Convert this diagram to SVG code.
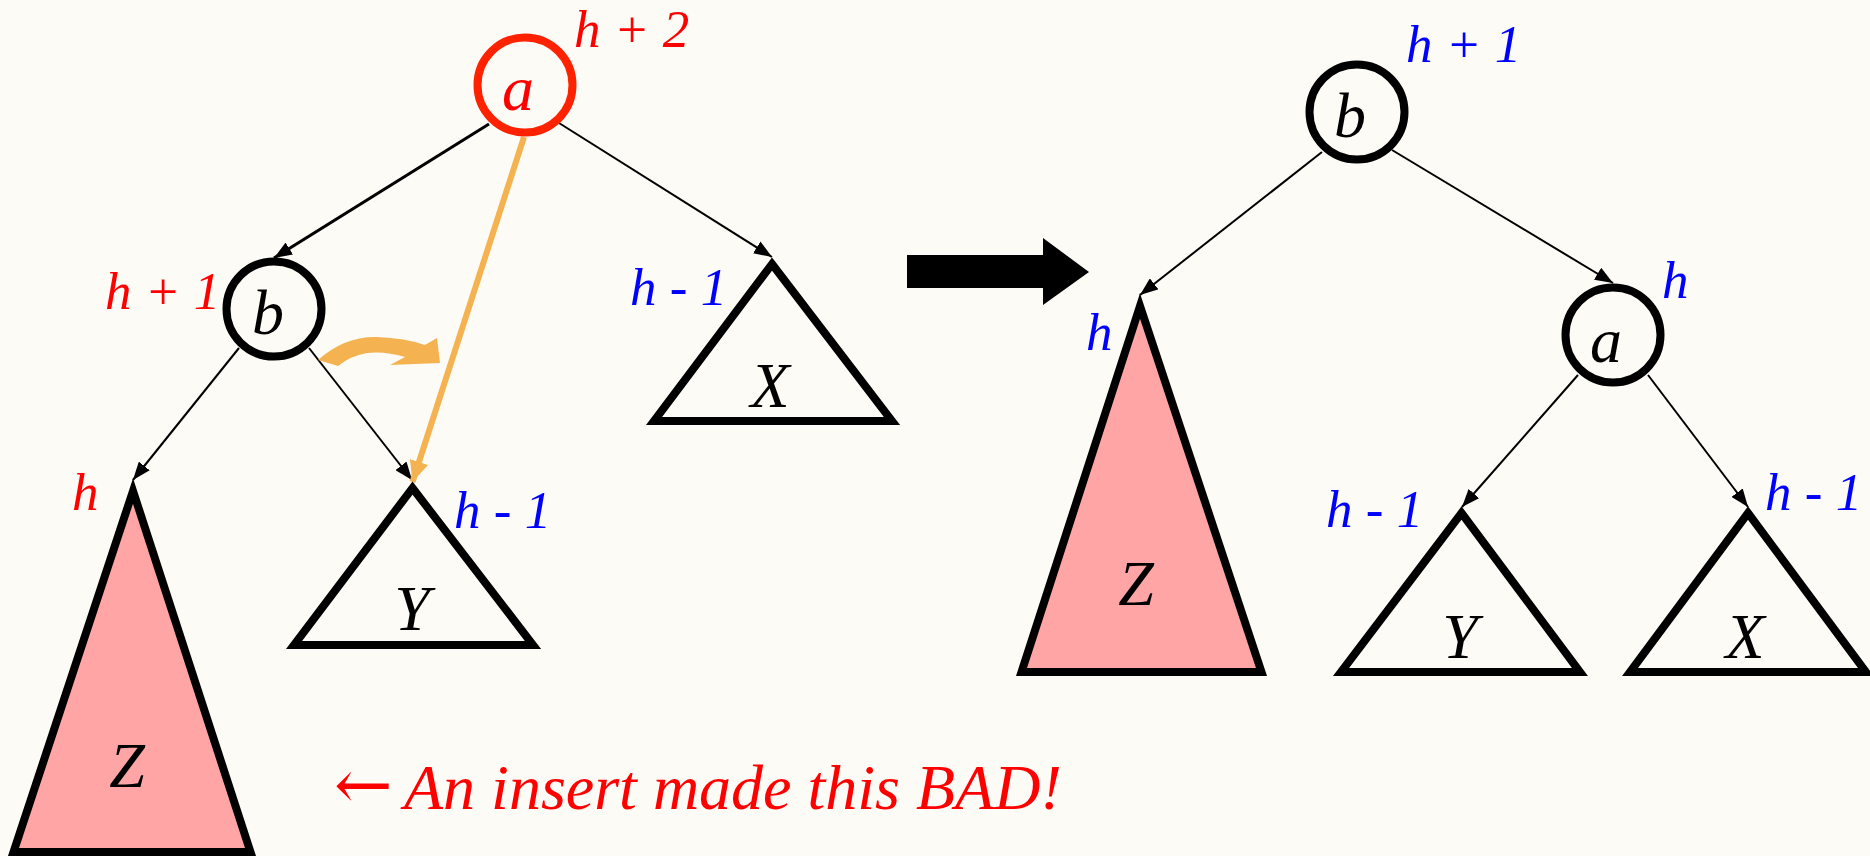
<svg xmlns="http://www.w3.org/2000/svg" width="1870" height="856" viewBox="0 0 1870 856">
<defs>
<style>
.bg{fill:#FCFBF6}
text{font-family:"Liberation Serif","Times New Roman",serif;font-style:italic}
.lbl{font-size:64px;fill:#000;text-anchor:middle}
.hr{font-size:53px;fill:#FF0000}
.hb{font-size:53px;fill:#0000FF}
.node{fill:none;stroke:#000;stroke-width:8}
.tri{fill:none;stroke:#000;stroke-width:8;stroke-linejoin:miter}
.pink{fill:#FFA5A5}
.edge{fill:none;stroke:#000;stroke-width:2;marker-end:url(#ah)}
.orange{fill:none;stroke:#F4B350;stroke-width:6;marker-end:url(#oh)}
</style>
<marker id="ah" markerUnits="userSpaceOnUse" markerWidth="18" markerHeight="14" refX="18" refY="7" orient="auto">
<path d="M0,0 L18,7 L0,14 z" fill="#000"/>
</marker>
<marker id="oh" markerUnits="userSpaceOnUse" markerWidth="22" markerHeight="19" refX="21" refY="9.5" orient="auto">
<path d="M0,0 L21,9.5 L0,19 z" fill="#F4B350"/>
</marker>
</defs>
<rect class="bg" x="0" y="0" width="1870" height="856"/>

<g id="connectors">
<path class="edge" style="stroke-width:3" d="M489,124 L274,258"/>
<path class="edge" d="M559,123 L772,257"/>
<path class="edge" d="M239,348 L133,480"/>
<path class="edge" d="M309,348 L412,480"/>
<path class="orange" d="M524,137 L412.5,482"/>
<path d="M318,360 Q345,336 377,337 Q405,338 425,345 L437,338 L440,363 L390,365 L405,357 Q385,351 367,353 Q350,356 338,366 Z" fill="#F4B350"/>
<path class="edge" d="M1322,152 L1140,295"/>
<path class="edge" d="M1392,150 L1613,283"/>
<path class="edge" d="M1578,375 L1462,507"/>
<path class="edge" d="M1648,375 L1748,507"/>
</g>

<g id="node-a-left">
<circle cx="525" cy="85" r="47.5" fill="none" stroke="#FF2200" stroke-width="8"/>
<text x="518" y="110" class="lbl" style="fill:#FF0000">a</text>
<text x="574" y="47" class="hr">h + 2</text>
</g>
<g id="node-b-left">
<circle class="node" cx="274" cy="309" r="47.5"/>
<text x="268" y="334" class="lbl">b</text>
<text x="105" y="309" class="hr">h + 1</text>
</g>
<g id="tree-X-left">
<polygon class="tri" points="772,264 892,421 654,421"/>
<text x="770" y="407" class="lbl">X</text>
<text x="630" y="305" class="hb">h - 1</text>
</g>
<g id="tree-Y-left">
<polygon class="tri" points="412.5,488 533,645 294,645"/>
<text x="412" y="630" class="lbl">Y</text>
<text x="454" y="528" class="hb">h - 1</text>
</g>
<g id="tree-Z-left">
<polygon class="tri pink" points="133,491 250.5,852 13.5,852"/>
<text x="127" y="787" class="lbl">Z</text>
<text x="72" y="510" class="hr">h</text>
</g>

<g id="big-arrow">
<polygon points="907,255 1043,255 1043,238 1089,272 1043,305 1043,288 907,288" fill="#000"/>
</g>

<g id="node-b-right">
<circle class="node" cx="1357" cy="112" r="47.5"/>
<text x="1350" y="137" class="lbl">b</text>
<text x="1406" y="62" class="hb">h + 1</text>
</g>
<g id="node-a-right">
<circle class="node" cx="1613" cy="335" r="47.5"/>
<text x="1606" y="362" class="lbl">a</text>
<text x="1662" y="298" class="hb">h</text>
</g>
<g id="tree-Z-right">
<polygon class="tri pink" points="1140,306 1261.5,672 1021.5,672"/>
<text x="1136" y="605" class="lbl">Z</text>
<text x="1086" y="350" class="hb">h</text>
</g>
<g id="tree-Y-right">
<polygon class="tri" points="1461.5,513 1580,672 1341,672"/>
<text x="1460" y="658" class="lbl">Y</text>
<text x="1326" y="527" class="hb">h - 1</text>
</g>
<g id="tree-X-right">
<polygon class="tri" points="1748,513 1866,672 1630,672"/>
<text x="1745" y="658" class="lbl">X</text>
<text x="1765" y="510" class="hb">h - 1</text>
</g>

<g id="caption">
<text y="809" style="font-size:64px;fill:#FF0000"><tspan x="334" style="font-family:'DejaVu Serif',serif;font-style:normal;font-size:70px">←</tspan><tspan x="404">An insert made this BAD!</tspan></text>
</g>
</svg>
